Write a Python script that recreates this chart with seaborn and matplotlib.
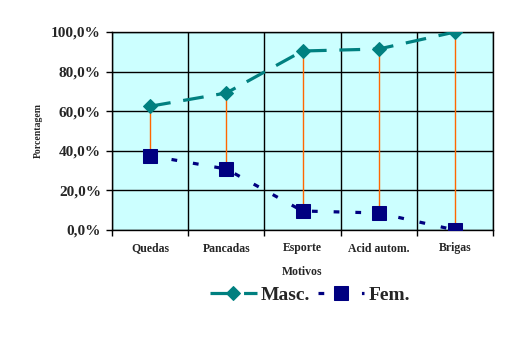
import matplotlib
matplotlib.use("Agg")
import matplotlib.pyplot as plt
import seaborn as sns
import pandas as pd
import numpy as np
from matplotlib.ticker import FixedLocator, FuncFormatter

categories = ["Quedas", "Pancadas", "Esporte", "Acid autom.", "Brigas"]
masc = [0.625, 0.692, 0.904, 0.914, 1.000]
fem = [0.375, 0.308, 0.096, 0.086, 0.000]

sns.set_theme(style="white")
plt.rcParams["font.family"] = ["Liberation Serif", "DejaVu Serif"]
plt.rcParams["font.weight"] = "bold"

df = pd.DataFrame({"Motivo": categories, "Masc.": masc, "Fem.": fem})
df["x"] = np.arange(len(categories))

fig = plt.figure(figsize=(5.11, 3.37), dpi=100)
ax = fig.add_axes([112/511, 1-230/337, (493-112)/511, (230-32)/337])
ax.set_facecolor("#CCFFFF")
fig.patch.set_facecolor("white")

# hi-lo lines
ax.vlines(df["x"], df["Fem."], df["Masc."], color="#FF6600", lw=1.0, zorder=2)

sns.lineplot(data=df, x="x", y="Masc.", ax=ax, color="#008080", lw=2.3,
             marker="D", markersize=7.5, markeredgecolor="#008080",
             dashes=False, label="Masc.", zorder=4)
sns.lineplot(data=df, x="x", y="Fem.", ax=ax, color="#000080", lw=2.3,
             marker="s", markersize=10, markeredgecolor="#000080",
             label="Fem.", zorder=4)
lines = ax.get_lines()
lines[0].set_dashes([6.5, 4])
lines[1].set_dashes([1.8, 5])

ax.set_xlim(-0.5, len(categories) - 0.5)
ax.set_ylim(0, 1.0)
ax.set_xticks(df["x"])
ax.set_xticklabels(categories, fontsize=8.5, fontweight="bold")
ax.xaxis.set_minor_locator(FixedLocator(np.arange(-0.5, len(categories), 1.0)))
ax.tick_params(axis="x", which="major", length=0, pad=9)
ax.tick_params(axis="x", which="minor", length=4, width=1, color="black", direction="out", bottom=True)
ax.set_yticks(np.arange(0, 1.01, 0.2))
ax.yaxis.set_major_formatter(FuncFormatter(lambda v, p: f"{v*100:.1f}%".replace(".", ",")))
ax.tick_params(axis="y", which="major", length=4, width=1, color="black", direction="out", left=True, labelsize=11, pad=4)
for lab in ax.get_yticklabels():
    lab.set_fontweight("bold")

ax.grid(False)
ax.yaxis.grid(True, which="major", color="black", lw=1)
ax.xaxis.grid(True, which="minor", color="black", lw=1)
ax.set_axisbelow(True)
for s in ax.spines.values():
    s.set_color("black")
    s.set_linewidth(1)

ax.set_xlabel("Motivos", fontsize=8.5, fontweight="bold", labelpad=8)
ax.set_ylabel("Porcentagem", fontsize=7, fontweight="bold", labelpad=6)

ax.legend(loc="center", bbox_to_anchor=(310/511, 1-295/337), bbox_transform=fig.transFigure,
          ncol=2, frameon=False, prop={"family": "Liberation Serif", "weight": "bold", "size": 14},
          handlelength=2.4, columnspacing=0.4, handletextpad=0.2)

fig.savefig("out.png", dpi=100)
